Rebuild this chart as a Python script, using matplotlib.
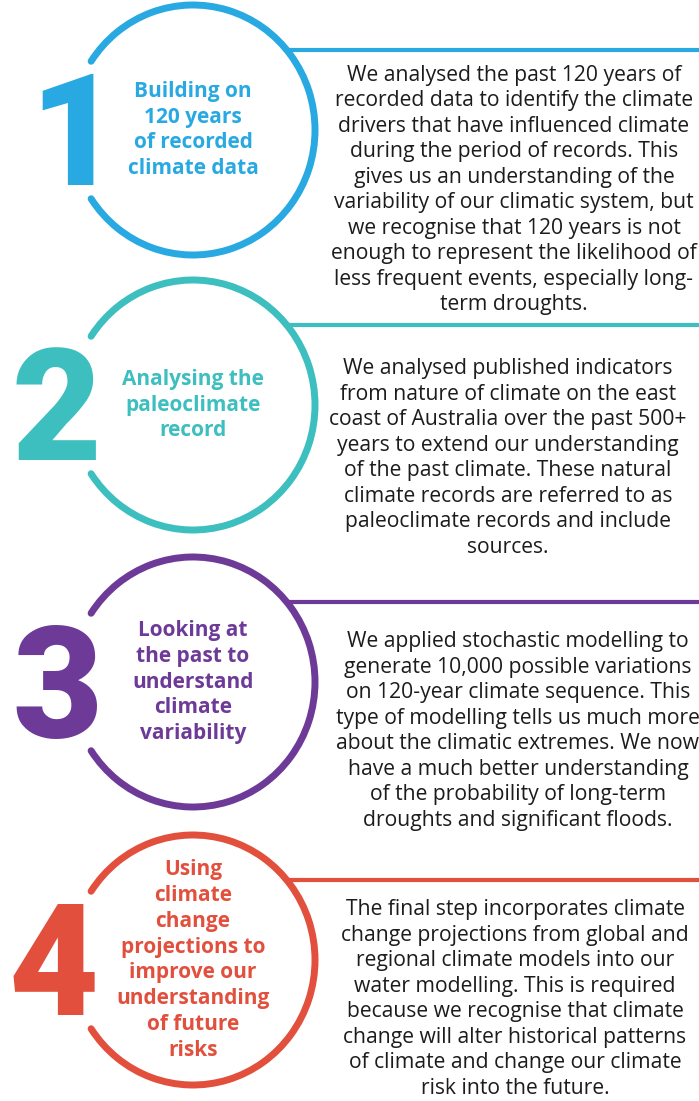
import matplotlib
matplotlib.use("Agg")
import matplotlib.pyplot as plt
from matplotlib.patches import Arc
import numpy as np

numbers = ["1", "2", "3", "4"]
titles = [
    "Building on\n120 years\nof recorded\nclimate data",
    "Analysing the\npaleoclimate\nrecord",
    "Looking at\nthe past to\nunderstand\nclimate\nvariability",
    "Using\nclimate\nchange\nprojections to\nimprove our\nunderstanding\nof future\nrisks",
]
descriptions = [
    "We analysed the past 120 years of\nrecorded data to identify the climate\ndrivers that have influenced climate\n"
    "during the period of records. This\ngives us an understanding of the\nvariability of our climatic system, but\n"
    "we recognise that 120 years is not\nenough to represent the likelihood of\nless frequent events, especially long-\nterm droughts.",
    "We analysed published indicators\nfrom nature of climate on the east\ncoast of Australia over the past 500+\n"
    "years to extend our understanding\nof the past climate. These natural\nclimate records are referred to as\n"
    "paleoclimate records and include\nsources.",
    "We applied stochastic modelling to\ngenerate 10,000 possible variations\non 120-year climate sequence. This\n"
    "type of modelling tells us much more\nabout the climatic extremes. We now\nhave a much better understanding\n"
    "of the probability of long-term\ndroughts and significant floods.",
    "The final step incorporates climate\nchange projections from global and\nregional climate models into our\n"
    "water modelling. This is required\nbecause we recognise that climate\nchange will alter historical patterns\n"
    "of climate and change our climate\nrisk into the future.",
]
colors = ["#29A9E1", "#3DBEBF", "#6D3A98", "#E2503D"]

# layout
W, H = 699, 1101
centers_y = [130, 405, 682, 960]
num_x = [119, 102, 103, 99]
desc_cy = [190, 458, 731, 999]
desc_cx = [514, 508, 518, 515]
cx, rx, ry = 193, 122, 125

fig = plt.figure(figsize=(W / 100, H / 100), dpi=100)
ax = fig.add_axes([0, 0, 1, 1])
ax.set_xlim(0, W)
ax.set_ylim(H, 0)
ax.axis("off")

for i, num in enumerate(numbers):
    cy = centers_y[i]
    c = colors[i]
    arc = Arc((cx, cy), 2 * rx, 2 * ry, theta1=-146, theta2=146, color=c, lw=5, capstyle="round")
    ax.add_patch(arc)
    ly = cy - 80
    lx = cx + rx * np.cos(np.arcsin(80 / ry))
    ax.plot([lx, W + 5], [ly, ly], color=c, lw=3, solid_capstyle="butt")
    ax.text(num_x[i], cy + 55, num, color=c, fontsize=112, fontfamily="Roboto", fontweight="black",
            ha="right", va="baseline")
    ax.text(193, cy, titles[i], color=c, fontsize=15, fontfamily="Open Sans", fontweight="bold",
            ha="center", va="center", linespacing=1.3)
    ax.text(desc_cx[i], desc_cy[i], descriptions[i], color="#1c1c1c", fontsize=15.2,
            fontfamily="Open Sans", ha="center", va="center", linespacing=1.28)

fig.savefig("out.png", dpi=100, facecolor="white")
